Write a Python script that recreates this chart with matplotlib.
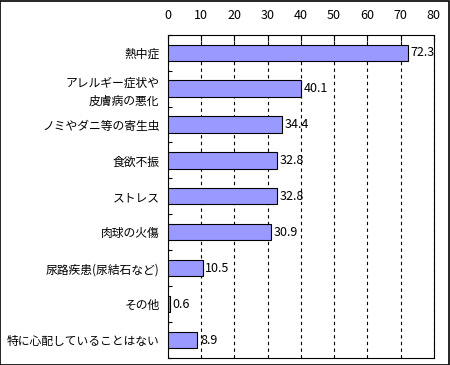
import matplotlib
matplotlib.use("Agg")
import matplotlib.pyplot as plt
from matplotlib.patches import Rectangle
import numpy as np

plt.rcParams['font.family'] = ['Noto Sans CJK JP', 'DejaVu Sans']

categories = ["熱中症", "アレルギー症状や\n皮膚病の悪化", "ノミやダニ等の寄生虫", "食欲不振",
              "ストレス", "肉球の火傷", "尿路疾患(尿結石など)", "その他", "特に心配していることはない"]
values = [72.3, 40.1, 34.4, 32.8, 32.8, 30.9, 10.5, 0.6, 8.9]
xticks = [0, 10, 20, 30, 40, 50, 60, 70, 80]

fig = plt.figure(figsize=(4.5, 3.65), dpi=100)
ax = fig.add_axes([0.373, 0.019, 0.591, 0.886])

n = len(categories)
y = np.arange(n)
ax.barh(y, values, height=0.45, color="#9999FF", edgecolor="black", linewidth=0.8, zorder=3)
for yi, v in zip(y, values):
    ax.text(v + 0.8, yi, f"{v}", va="center", ha="left", fontsize=9, zorder=4)

ax.set_xlim(0, 80)
ax.set_ylim(n - 0.5, -0.5)
ax.set_xticks(xticks)
ax.xaxis.tick_top()
ax.tick_params(axis="x", direction="in", length=4, labelsize=9, pad=9, width=0.8)
ax.set_yticks(y)
ax.set_yticklabels(categories, fontsize=8.5, linespacing=1.45)
ax.tick_params(axis="y", length=0, pad=6)
ax.set_yticks(np.arange(n + 1) - 0.5, minor=True)
ax.tick_params(axis="y", which="minor", direction="in", length=3, width=0.8)
ax.grid(axis="x", linestyle=(0, (3, 3)), color="black", linewidth=0.8, zorder=1)
for s in ax.spines.values():
    s.set_linewidth(0.8)

fig.patches.append(Rectangle((0.001, 0.001), 0.997, 0.997, transform=fig.transFigure,
                             fill=False, edgecolor="black", linewidth=1.2))
fig.savefig("out.png", dpi=100)
